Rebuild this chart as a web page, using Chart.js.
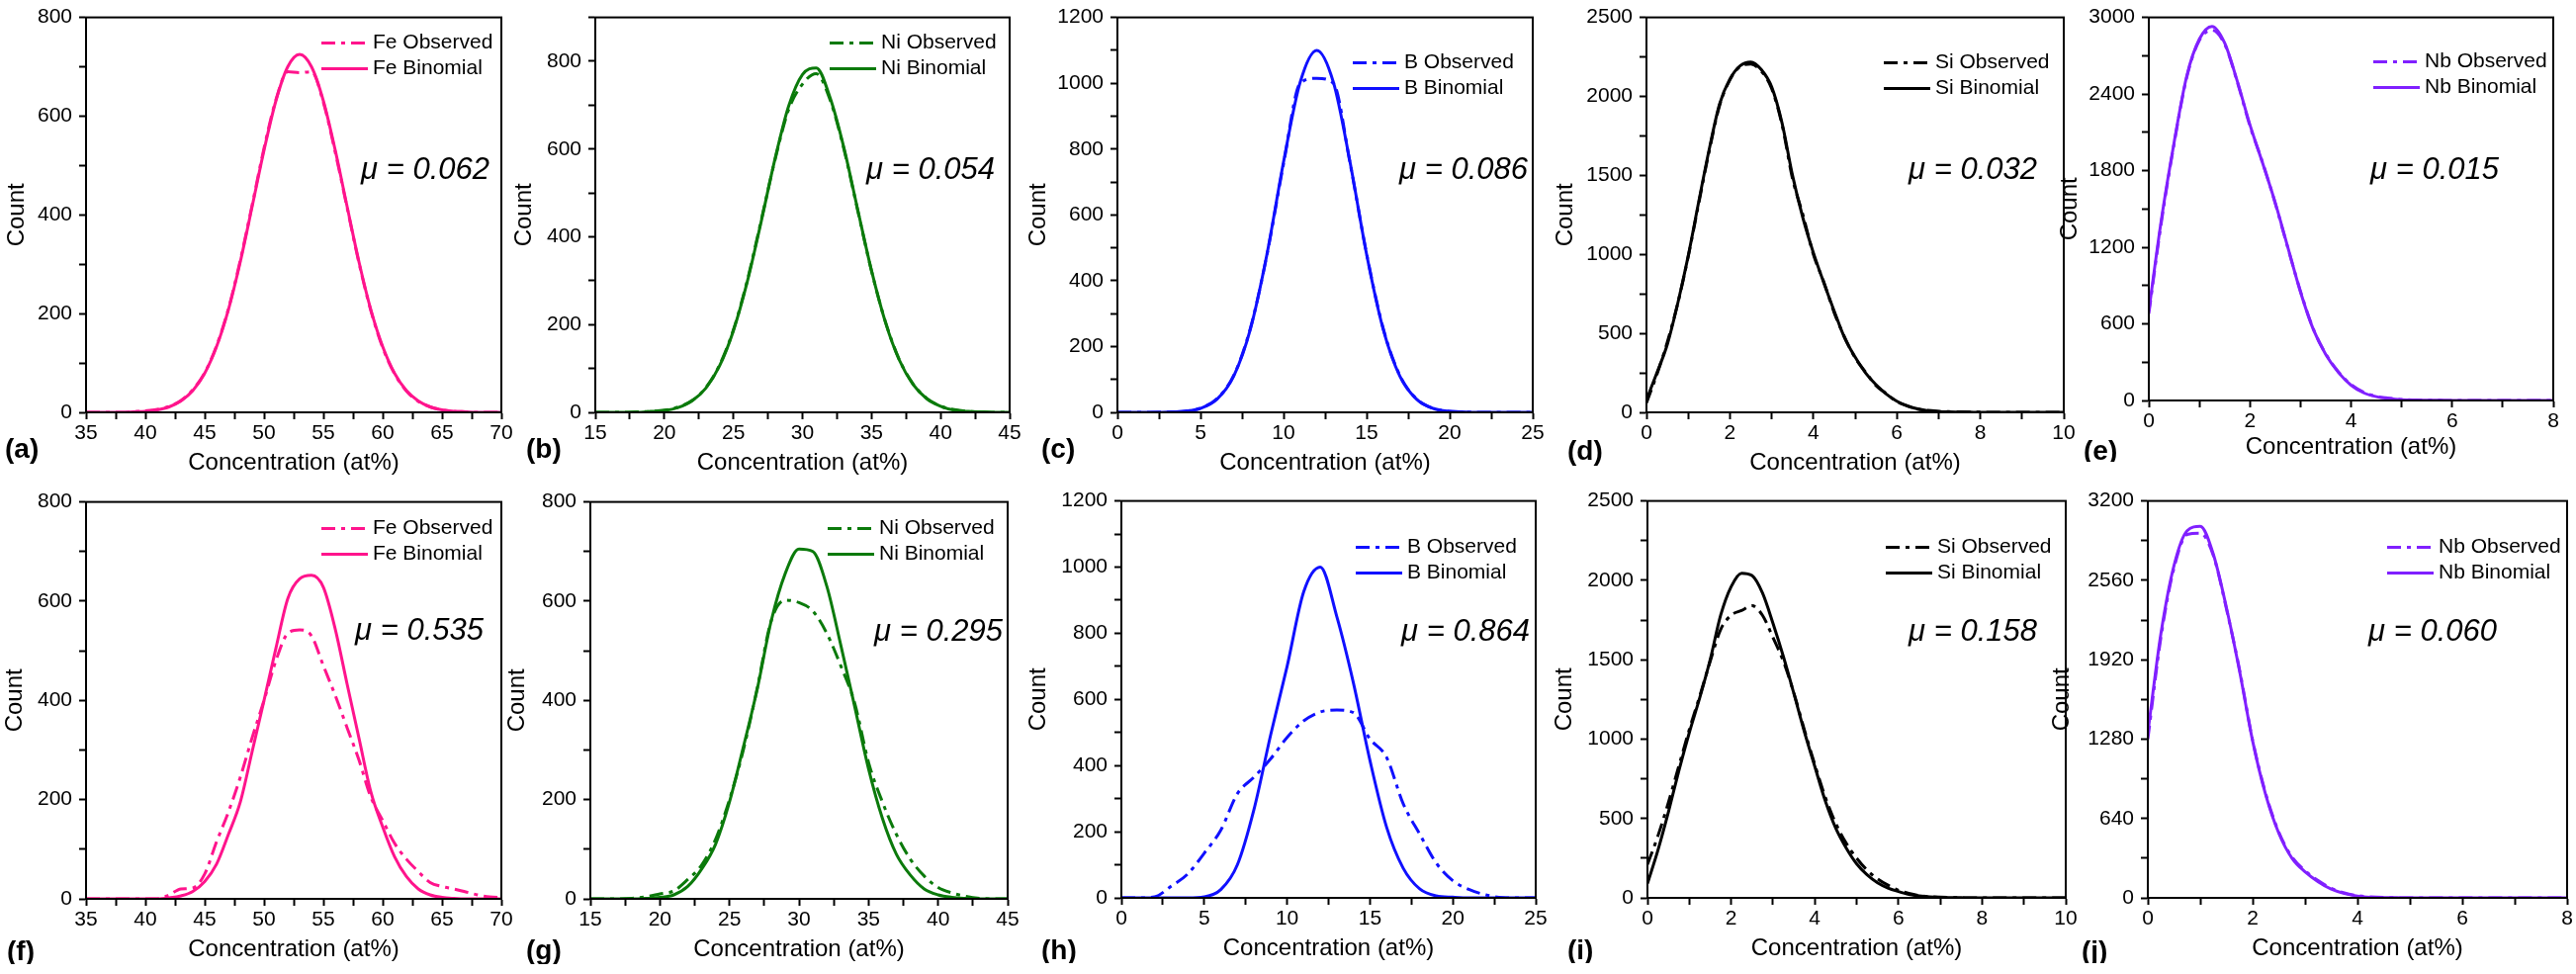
<!DOCTYPE html>
<html>
<head>
<meta charset="utf-8">
<script src="https://cdn.jsdelivr.net/npm/chart.js@4.4.1/dist/chart.umd.min.js"></script>
<style>
  html, body { margin: 0; padding: 0; background: #fff; }
  body { width: 2605px; height: 985px; position: relative; overflow: hidden; }
  .panel { position: absolute; }
</style>
</head>
<body>
<script>
// concentration positions (at%)
var feX = [35,36,37,38,39,40,41,42,43,44,45,46,47,48,49,50,51,52,53,54,55,56,57,58,59,60,61,62,63,64,65,66,67,68,69,70];
var niX = [15,16,17,18,19,20,21,22,23,24,25,26,27,28,29,30,31,32,33,34,35,36,37,38,39,40,41,42,43,44,45];
var bX  = [0,1,2,3,4,5,6,7,8,9,10,11,12,13,14,15,16,17,18,19,20,21,22,23,24,25];
var siX = [0,0.25,0.5,0.75,1,1.25,1.5,1.75,2,2.25,2.5,2.75,3,3.25,3.5,3.75,4,4.25,4.5,4.75,5,5.25,5.5,5.75,6,6.25,6.5,6.75,7,7.25,7.5,7.75,8,8.25,8.5,8.75,9,9.25,9.5,9.75,10];
var nbX = [0,0.25,0.5,0.75,1,1.25,1.5,1.75,2,2.25,2.5,2.75,3,3.25,3.5,3.75,4,4.25,4.5,4.75,5,5.25,5.5,5.75,6,6.25,6.5,6.75,7,7.25,7.5,7.75,8];

// top row counts
var feObsA = [0,0,0,0,1,3,6,12,24,46,80,135,210,308,420,535,633,690,688,690,628,527,415,303,206,131,78,43,22,11,5,2,1,0,0,0];
var feBinA = [0,0,0,0,1,2,5,11,23,44,79,133,208,305,417,531,631,700,725,700,631,531,417,305,208,133,79,44,23,11,5,2,1,0,0,0];
var niObsB = [0,0,0,1,2,5,12,27,56,108,188,300,436,574,690,748,772,712,600,460,322,207,121,65,32,14,6,2,1,0,0];
var niBinB = [0,0,0,0,2,4,11,26,55,106,186,297,433,576,698,770,785,717,603,462,323,206,120,64,31,14,5,2,1,0,0];
var bObsC  = [0,0,0,1,3,13,42,112,255,478,755,1000,1015,1000,758,482,255,112,41,12,3,1,0,0,0,0];
var bBinC  = [0,0,0,1,3,12,40,110,252,480,761,1003,1100,1003,761,480,252,110,40,12,3,1,0,0,0,0];
var siObsD = [60,240,445,690,985,1320,1650,1940,2105,2190,2205,2160,2050,1820,1480,1250,1000,825,630,475,345,255,170,118,68,42,20,12,6,4,3,2,1,0,0,0,0,0,0,0,0];
var siBinD = [80,250,430,690,990,1330,1660,1950,2110,2195,2218,2170,2060,1830,1500,1230,1010,820,640,470,350,250,175,115,70,40,22,10,5,3,2,1,0,0,0,0,0,0,0,0,0];
var nbObsE = [680,1400,2010,2530,2820,2900,2790,2495,2150,1865,1545,1195,855,565,365,225,125,65,32,18,8,4,2,1,0,0,0,0,0,0,0,0,0];
var nbBinE = [700,1420,2020,2540,2830,2930,2800,2500,2160,1860,1550,1200,850,560,360,220,120,60,30,15,6,3,2,1,0,0,0,0,0,0,0,0,0];

// bottom row counts
var feObsF = [0,0,0,0,0,0,0,8,20,22,50,115,175,245,325,400,480,535,542,530,470,410,345,280,205,158,112,80,55,33,25,20,14,8,4,3];
var feBinF = [0,0,0,0,0,0,0,2,6,15,35,70,130,195,297,400,505,605,645,652,628,544,433,324,216,145,85,45,20,8,3,1,0,0,0,0];
var niObsG = [0,0,0,1,4,10,16,39,68,120,200,300,425,560,602,597,580,535,470,395,275,195,130,80,46,23,12,5,1,0,0];
var niBinG = [0,0,0,0,1,3,8,25,60,110,195,306,423,560,655,705,700,630,512,388,262,162,90,48,20,8,3,1,0,0,0];
var bObsH  = [0,0,3,35,72,135,205,315,365,420,485,535,562,568,560,480,425,285,193,105,52,25,9,1,0,0];
var bBinH  = [0,0,0,0,0,3,25,100,267,491,700,925,1000,850,650,415,214,90,27,6,2,0,0,0,0,0];
var siObsI = [210,390,600,830,1060,1270,1490,1690,1780,1810,1840,1780,1640,1490,1290,1060,840,635,470,345,250,175,120,80,48,28,14,7,4,2,1,0,0,0,0,0,0,0,0,0,0];
var siBinI = [90,300,540,800,1040,1260,1500,1780,1960,2045,2030,1920,1730,1520,1288,1048,828,612,440,315,215,145,95,62,40,22,12,6,3,2,1,0,0,0,0,0,0,0,0,0,0];
var nbObsJ = [1280,2100,2660,2930,2940,2760,2330,1840,1270,840,530,330,220,140,78,40,18,8,3,1,0,0,0,0,0,0,0,0,0,0,0,0,0];
var nbBinJ = [1330,2130,2680,2960,2995,2770,2340,1830,1265,830,520,320,210,130,70,35,15,5,2,1,0,0,0,0,0,0,0,0,0,0,0,0,0];

var muLabels = ['0.062','0.054','0.086','0.032','0.015','0.535','0.295','0.864','0.158','0.060'];

var FONT = '"Liberation Sans", Arial, sans-serif';
var FE = '#ff148c', NI = '#0b7a0b', B = '#1010ff', SI = '#000000', NB = '#8020ff';

// panel geometry: plot box in page pixels
var panels = [
  {tag:'a', el:'Fe', col:FE, xs:feX, obs:feObsA, bin:feBinA, xr:[35,70,5], yr:[0,800,200,800],   L:87,   R:507,  T:13,  B:417, yOff:70, legY:26, muR:12, muY:155, labX:82, labY:455, xH:66},
  {tag:'b', el:'Ni', col:NI, xs:niX, obs:niObsB, bin:niBinB, xr:[15,45,5], yr:[0,900,200,800],   L:602,  R:1021, T:13,  B:417, yOff:72, legY:26, muR:15, muY:155, labX:70, labY:455, xH:66},
  {tag:'c', el:'B',  col:B,  xs:bX,  obs:bObsC,  bin:bBinC,  xr:[0,25,5],  yr:[0,1200,200,1200], L:1130, R:1550, T:13,  B:417, yOff:80, legY:46, muR:5,  muY:155, labX:77, labY:455, xH:66},
  {tag:'d', el:'Si', col:SI, xs:siX, obs:siObsD, bin:siBinD, xr:[0,10,2],  yr:[0,2500,500,2500], L:1665, R:2087, T:13,  B:417, yOff:82, legY:46, muR:27, muY:155, labX:80, labY:457, xH:66},
  {tag:'e', el:'Nb', col:NB, xs:nbX, obs:nbObsE, bin:nbBinE, xr:[0,8,2],   yr:[0,3000,600,3000], L:2173, R:2582, T:13,  B:405, yOff:80, legY:45, muR:55, muY:155, labX:66, labY:457, xH:62},
  {tag:'f', el:'Fe', col:FE, xs:feX, obs:feObsF, bin:feBinF, xr:[35,70,5], yr:[0,800,200,800],   L:87,   R:507,  T:503, B:909, yOff:72, legY:27, muR:18, muY:131, labX:80, labY:963, xH:66},
  {tag:'g', el:'Ni', col:NI, xs:niX, obs:niObsG, bin:niBinG, xr:[15,45,5], yr:[0,800,200,800],   L:597,  R:1019, T:503, B:909, yOff:74, legY:27, muR:5,  muY:132, labX:65, labY:962, xH:66},
  {tag:'h', el:'B',  col:B,  xs:bX,  obs:bObsH,  bin:bBinH,  xr:[0,25,5],  yr:[0,1200,200,1200], L:1134, R:1553, T:502, B:908, yOff:84, legY:47, muR:6,  muY:133, labX:81, labY:962, xH:66},
  {tag:'i', el:'Si', col:SI, xs:siX, obs:siObsI, bin:siBinI, xr:[0,10,2],  yr:[0,2500,500,2500], L:1666, R:2089, T:502, B:908, yOff:84, legY:47, muR:29, muY:133, labX:81, labY:962, xH:66},
  {tag:'j', el:'Nb', col:NB, xs:nbX, obs:nbObsJ, bin:nbBinJ, xr:[0,8,2],   yr:[0,3200,640,3200], L:2172, R:2596, T:502, B:908, yOff:87, legY:47, muR:71, muY:133, labX:67, labY:963, xH:66}
];

function isMajor(v, step) {
  var q = v / step;
  return Math.abs(q - Math.round(q)) < 1e-6;
}

var decoPlugin = {
  id: 'deco',
  afterDraw: function(chart, args, o) {
    var ctx = chart.ctx, a = chart.chartArea;
    ctx.save();
    // box round the plot
    ctx.strokeStyle = '#000';
    ctx.lineWidth = 2;
    ctx.setLineDash([]);
    ctx.strokeRect(a.left, a.top, a.right - a.left, a.bottom - a.top);

    // legend, top right inside the plot
    ctx.font = '21px ' + FONT;
    ctx.textBaseline = 'middle';
    ctx.textAlign = 'left';
    chart.data.datasets.forEach(function(ds, k) {
      var y = a.top + o.legY + k * 26;
      ctx.beginPath();
      ctx.setLineDash(ds.borderDash || []);
      ctx.strokeStyle = ds.borderColor;
      ctx.lineWidth = ds.borderWidth;
      ctx.moveTo(a.right - 182, y);
      ctx.lineTo(a.right - 135, y);
      ctx.stroke();
      ctx.setLineDash([]);
      ctx.fillStyle = '#000';
      ctx.fillText(ds.label, a.right - 130, y);
    });

    // mu value
    ctx.font = 'italic 31px ' + FONT;
    ctx.textAlign = 'right';
    ctx.fillStyle = '#000';
    ctx.fillText('\u03bc = ' + o.mu, a.right - o.muR, a.top + o.muY);

    // panel letter
    ctx.font = 'bold 28px ' + FONT;
    ctx.textAlign = 'left';
    ctx.fillText('(' + o.tag + ')', a.left - o.labX, o.labY);
    ctx.restore();
  }
};

panels.forEach(function(p, n) {
  var yW = p.yOff + 14;
  var padTop = 15;
  var padR = Math.min(20, 2605 - p.R);
  var div = document.createElement('div');
  div.className = 'panel';
  div.style.left = (p.L - yW) + 'px';
  div.style.top = (p.T - padTop) + 'px';
  div.style.width = (yW + (p.R - p.L) + padR) + 'px';
  div.style.height = (padTop + (p.B - p.T) + p.xH) + 'px';
  var cv = document.createElement('canvas');
  div.appendChild(cv);
  document.body.appendChild(div);

  var obsPts = p.xs.map(function(x, i) { return {x: x, y: p.obs[i]}; });
  var binPts = p.xs.map(function(x, i) { return {x: x, y: p.bin[i]}; });

  new Chart(cv, {
    type: 'line',
    data: {
      datasets: [
        {
          label: p.el + ' Observed',
          data: obsPts,
          borderColor: p.col,
          borderWidth: 3,
          borderDash: [14, 6, 4, 6],
          pointRadius: 0,
          cubicInterpolationMode: 'monotone',
          fill: false
        },
        {
          label: p.el + ' Binomial',
          data: binPts,
          borderColor: p.col,
          borderWidth: 3,
          pointRadius: 0,
          cubicInterpolationMode: 'monotone',
          fill: false
        }
      ]
    },
    options: {
      responsive: true,
      maintainAspectRatio: false,
      animation: false,
      layout: { padding: { left: 0, top: padTop, right: padR, bottom: 0 } },
      plugins: {
        legend: { display: false },
        tooltip: { enabled: false },
        deco: { tag: p.tag, mu: muLabels[n], legY: p.legY, muR: p.muR, muY: p.muY,
                labX: p.labX, labY: p.labY - (p.T - padTop) }
      },
      scales: {
        x: {
          type: 'linear',
          min: p.xr[0],
          max: p.xr[1],
          afterFit: function(s) { s.height = p.xH; },
          ticks: {
            stepSize: p.xr[2] / 2,
            autoSkip: false,
            maxRotation: 0,
            color: '#000',
            padding: 2,
            font: { size: 21, family: FONT },
            callback: function(v) { return isMajor(v, p.xr[2]) ? String(v) : ''; }
          },
          grid: { drawOnChartArea: false, drawTicks: true, tickLength: 7, tickColor: '#000', tickWidth: 2 },
          border: { display: true, color: '#000', width: 2 },
          title: { display: true, text: 'Concentration (at%)', color: '#000', padding: 0,
                   font: { size: 24, family: FONT } }
        },
        y: {
          min: p.yr[0],
          max: p.yr[1],
          afterFit: function(s) { s.width = yW; },
          ticks: {
            stepSize: p.yr[2] / 2,
            autoSkip: false,
            color: '#000',
            padding: 7,
            font: { size: 21, family: FONT },
            callback: function(v) { return (isMajor(v, p.yr[2]) && v <= p.yr[3]) ? String(v) : ''; }
          },
          grid: { drawOnChartArea: false, drawTicks: true, tickLength: 7, tickColor: '#000', tickWidth: 2 },
          border: { display: true, color: '#000', width: 2 },
          title: { display: true, text: 'Count', color: '#000', padding: 0,
                   font: { size: 24, family: FONT } }
        }
      }
    },
    plugins: [decoPlugin]
  });
});
</script>
</body>
</html>
